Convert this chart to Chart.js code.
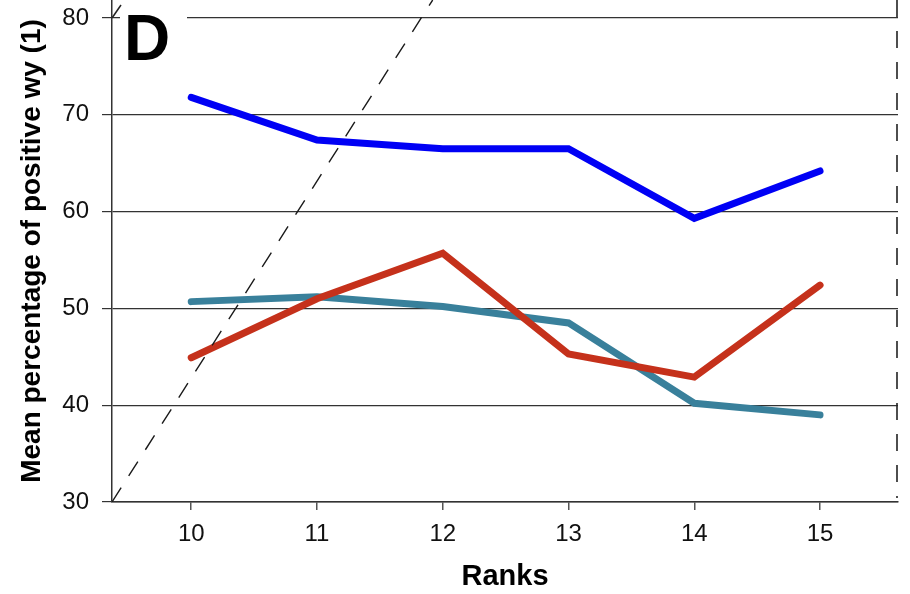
<!DOCTYPE html>
<html>
<head>
<meta charset="utf-8">
<script src="https://cdn.jsdelivr.net/npm/chart.js@4/dist/chart.umd.min.js"></script>
<style>
  html, body { margin: 0; padding: 0; background: #fff; }
  #wrap { width: 910px; height: 594px; position: relative; }
</style>
</head>
<body>
<div id="wrap"><canvas id="c" width="910" height="594"></canvas></div>
<script>
// Ranks on the x axis and mean percentages for the three groups
const ranks = [10, 11, 12, 13, 14, 15];
const blueSeries = [71.8, 67.4, 66.5, 66.5, 59.3, 64.2];
const redSeries  = [44.9, 51.0, 55.7, 45.3, 42.9, 52.4];
const tealSeries = [50.7, 51.2, 50.2, 48.5, 40.2, 39.0];
// Reference diagonal (dashed), endpoints in data units
const diagX = [9.37, 11.92];
const diagY = [30, 81.86];
const yTicks = [30, 40, 50, 60, 70, 80];

const FONT = "'Liberation Sans', Arial, Helvetica, sans-serif";
const pts = (xs, ys) => xs.map((x, i) => ({ x: x, y: ys[i] }));

const lineStyle = (color) => ({
  borderColor: color,
  backgroundColor: color,
  borderWidth: 7,
  pointRadius: 0,
  tension: 0,
  fill: false,
  borderCapStyle: 'round',
  borderJoinStyle: 'miter'
});

// Panel letter, top-of-axis slash and dashed right border
const panelDecor = {
  id: 'panelDecor',
  afterDraw(chart) {
    const { ctx, chartArea, scales } = chart;
    const y80 = scales.y.getPixelForValue(80);
    ctx.save();
    // white box behind the letter, interrupting the top gridline
    ctx.fillStyle = '#fff';
    ctx.fillRect(chartArea.left + 8, y80 - 4, 67, 8);
    ctx.fillStyle = '#000';
    ctx.font = 'bold 64px ' + FONT;
    ctx.textBaseline = 'alphabetic';
    ctx.textAlign = 'left';
    ctx.fillText('D', chartArea.left + 12, y80 + 42);
    // slash at the top of the y axis
    ctx.strokeStyle = '#222';
    ctx.lineWidth = 1.5;
    ctx.beginPath();
    ctx.moveTo(chartArea.left, y80);
    ctx.lineTo(chartArea.left + 9, y80 - 13);
    ctx.stroke();
    // dashed right border
    ctx.setLineDash([17, 14]);
    ctx.lineWidth = 1.6;
    ctx.beginPath();
    ctx.moveTo(chartArea.right - 1, chartArea.top);
    ctx.lineTo(chartArea.right - 1, chartArea.bottom - 4);
    ctx.stroke();
    ctx.restore();
  }
};

new Chart(document.getElementById('c'), {
  type: 'line',
  data: {
    datasets: [
      {
        data: pts(diagX, diagY),
        borderColor: '#1a1a1a',
        borderWidth: 1.4,
        borderDash: [17, 14],
        pointRadius: 0,
        tension: 0,
        fill: false,
        order: 0
      },
      Object.assign({ data: pts(ranks, blueSeries), order: 1 }, lineStyle('#0000f5')),
      Object.assign({ data: pts(ranks, redSeries), order: 2 }, lineStyle('#c5311b')),
      Object.assign({ data: pts(ranks, tealSeries), order: 3 }, lineStyle('#39809b'))
    ]
  },
  options: {
    responsive: false,
    animation: false,
    devicePixelRatio: 1,
    layout: { padding: { left: 0, right: 12, top: 0, bottom: 0 } },
    plugins: { legend: { display: false }, tooltip: { enabled: false } },
    scales: {
      x: {
        type: 'linear',
        min: 9.37,
        max: 15.62,
        afterBuildTicks(scale) { scale.ticks = ranks.map(v => ({ value: v })); },
        afterFit(scale) { scale.height = 92; scale.paddingLeft = 0; scale.paddingRight = 0; },
        grid: { drawOnChartArea: false, drawTicks: true, tickLength: 8, color: '#555', lineWidth: 1.5 },
        border: { display: true, color: '#333', width: 1.5 },
        ticks: { color: '#111', font: { family: FONT, size: 24 }, padding: 10, maxRotation: 0, autoSkip: false },
        title: { display: true, text: 'Ranks', color: '#000', font: { family: FONT, size: 29, weight: 'bold' }, padding: { top: 0, bottom: 0 } }
      },
      y: {
        type: 'linear',
        min: 30,
        max: 81.86,
        afterBuildTicks(scale) { scale.ticks = yTicks.map(v => ({ value: v })); },
        afterFit(scale) { scale.width = 112; scale.paddingTop = 0; scale.paddingBottom = 0; },
        grid: {
          drawOnChartArea: true, drawTicks: true, tickLength: 10, color: '#333', lineWidth: 1.2
        },
        border: { display: true, color: '#333', width: 1.5 },
        ticks: { color: '#111', font: { family: FONT, size: 24 }, padding: 13 },
        title: { display: true, text: 'Mean percentage of positive wy (1)', color: '#000', font: { family: FONT, size: 28, weight: 'bold' }, padding: { top: 15, bottom: 0 } }
      }
    }
  },
  plugins: [panelDecor]
});
</script>
</body>
</html>
